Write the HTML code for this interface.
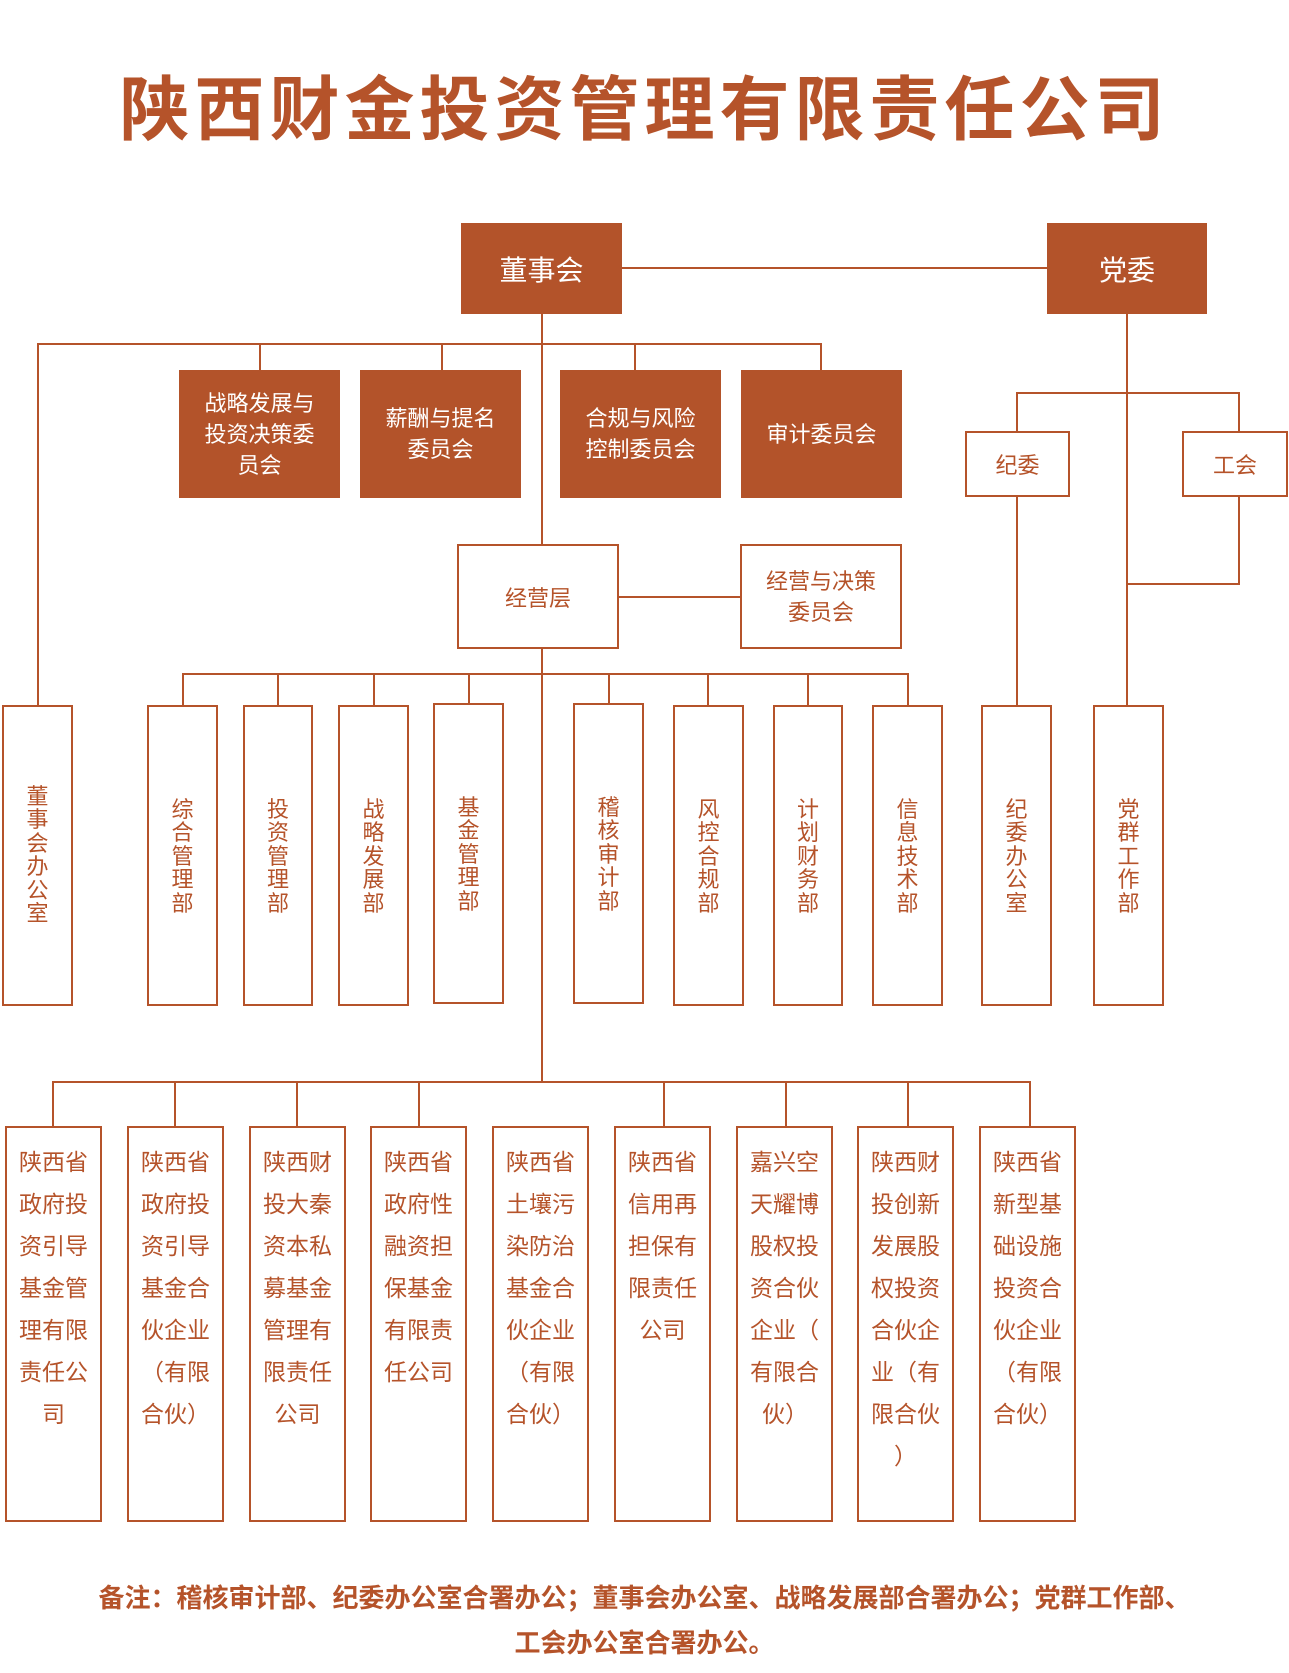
<!DOCTYPE html>
<html><head><meta charset="utf-8"><style>
body{margin:0;background:#fff;}
#c{position:relative;width:1289px;height:1673px;overflow:hidden;font-family:"Liberation Sans","Noto Sans CJK SC",sans-serif;color:#b5532a;}
.a{position:absolute;box-sizing:border-box;}
.f{background:#b3532a;color:#fff;display:flex;align-items:center;justify-content:center;text-align:center;}
.o{border:2px solid #b5532a;background:#fff;display:flex;align-items:center;justify-content:center;text-align:center;}
.h{position:absolute;height:2px;background:#b5532a;}
.v{position:absolute;width:2px;background:#b5532a;}
.vt{border:2px solid #b5532a;background:#fff;text-align:center;font-size:22px;line-height:23.4px;}
.bt{border:2px solid #b5532a;background:#fff;font-size:23px;line-height:42px;padding:13px 0 0 12px;text-align:left;}
.bt div{width:69px;white-space:nowrap;}
.ce{text-align:center;}
</style></head><body><div id="c">
<div class="a" style="left:0;top:66px;width:1289px;text-align:center;font-size:70px;font-weight:bold;line-height:88px;letter-spacing:5px;">陕西财金投资管理有限责任公司</div>

<!-- lines -->
<div class="h" style="left:622px;top:267px;width:425px"></div>
<div class="v" style="left:541px;top:314px;height:230px"></div>
<div class="h" style="left:37px;top:343px;width:785px"></div>
<div class="v" style="left:37px;top:343px;height:362px"></div>
<div class="v" style="left:259px;top:343px;height:27px"></div>
<div class="v" style="left:441px;top:343px;height:27px"></div>
<div class="v" style="left:634px;top:343px;height:27px"></div>
<div class="v" style="left:820px;top:343px;height:27px"></div>
<div class="v" style="left:1126px;top:314px;height:391px"></div>
<div class="h" style="left:1016px;top:392px;width:224px"></div>
<div class="v" style="left:1016px;top:392px;height:39px"></div>
<div class="v" style="left:1238px;top:392px;height:39px"></div>
<div class="v" style="left:1016px;top:496px;height:209px"></div>
<div class="v" style="left:1238px;top:496px;height:89px"></div>
<div class="h" style="left:1126px;top:583px;width:114px"></div>
<div class="h" style="left:618px;top:596px;width:122px"></div>
<div class="v" style="left:541px;top:648px;height:434px"></div>
<div class="h" style="left:182px;top:673px;width:727px"></div>
<div class="v" style="left:182px;top:673px;height:32px"></div>
<div class="v" style="left:277px;top:673px;height:32px"></div>
<div class="v" style="left:373px;top:673px;height:32px"></div>
<div class="v" style="left:468px;top:673px;height:30px"></div>
<div class="v" style="left:608px;top:673px;height:30px"></div>
<div class="v" style="left:707px;top:673px;height:32px"></div>
<div class="v" style="left:807px;top:673px;height:32px"></div>
<div class="v" style="left:907px;top:673px;height:32px"></div>
<div class="h" style="left:52px;top:1081px;width:979px"></div>
<div class="v" style="left:52px;top:1081px;height:46px"></div>
<div class="v" style="left:174px;top:1081px;height:46px"></div>
<div class="v" style="left:296px;top:1081px;height:46px"></div>
<div class="v" style="left:418px;top:1081px;height:46px"></div>
<div class="v" style="left:663px;top:1081px;height:46px"></div>
<div class="v" style="left:785px;top:1081px;height:46px"></div>
<div class="v" style="left:907px;top:1081px;height:46px"></div>
<div class="v" style="left:1029px;top:1081px;height:46px"></div>

<!-- top boxes -->
<div class="a f" style="left:461px;top:223px;width:161px;height:91px;font-size:28px;">董事会</div>
<div class="a f" style="left:1047px;top:223px;width:160px;height:91px;font-size:28px;">党委</div>
<div class="a f" style="left:179px;top:370px;width:161px;height:128px;font-size:22px;line-height:31px;">战略发展与<br>投资决策委<br>员会</div>
<div class="a f" style="left:360px;top:370px;width:161px;height:128px;font-size:22px;line-height:31px;">薪酬与提名<br>委员会</div>
<div class="a f" style="left:560px;top:370px;width:161px;height:128px;font-size:22px;line-height:31px;">合规与风险<br>控制委员会</div>
<div class="a f" style="left:741px;top:370px;width:161px;height:128px;font-size:22px;line-height:31px;">审计委员会</div>
<div class="a o" style="left:965px;top:431px;width:105px;height:66px;font-size:22px;">纪委</div>
<div class="a o" style="left:1182px;top:431px;width:106px;height:66px;font-size:22px;">工会</div>
<div class="a o" style="left:457px;top:544px;width:162px;height:105px;font-size:22px;">经营层</div>
<div class="a o" style="left:740px;top:544px;width:162px;height:105px;font-size:22px;line-height:31px;">经营与决策<br>委员会</div>

<!-- middle vertical boxes -->
<div class="a vt" style="left:2px;top:705px;width:71px;height:301px;padding-top:78px;">董<br>事<br>会<br>办<br>公<br>室</div>
<div class="a vt" style="left:147px;top:705px;width:71px;height:301px;padding-top:91px;">综<br>合<br>管<br>理<br>部</div>
<div class="a vt" style="left:243px;top:705px;width:70px;height:301px;padding-top:91px;">投<br>资<br>管<br>理<br>部</div>
<div class="a vt" style="left:338px;top:705px;width:71px;height:301px;padding-top:91px;">战<br>略<br>发<br>展<br>部</div>
<div class="a vt" style="left:433px;top:703px;width:71px;height:301px;padding-top:91px;">基<br>金<br>管<br>理<br>部</div>
<div class="a vt" style="left:573px;top:703px;width:71px;height:301px;padding-top:91px;">稽<br>核<br>审<br>计<br>部</div>
<div class="a vt" style="left:673px;top:705px;width:71px;height:301px;padding-top:91px;">风<br>控<br>合<br>规<br>部</div>
<div class="a vt" style="left:773px;top:705px;width:70px;height:301px;padding-top:91px;">计<br>划<br>财<br>务<br>部</div>
<div class="a vt" style="left:872px;top:705px;width:71px;height:301px;padding-top:91px;">信<br>息<br>技<br>术<br>部</div>
<div class="a vt" style="left:981px;top:705px;width:71px;height:301px;padding-top:91px;">纪<br>委<br>办<br>公<br>室</div>
<div class="a vt" style="left:1093px;top:705px;width:71px;height:301px;padding-top:91px;">党<br>群<br>工<br>作<br>部</div>

<!-- bottom boxes -->
<div class="a bt" style="left:5px;top:1126px;width:97px;height:396px;"><div>陕西省</div><div>政府投</div><div>资引导</div><div>基金管</div><div>理有限</div><div>责任公</div><div class="ce">司</div></div>
<div class="a bt" style="left:127px;top:1126px;width:97px;height:396px;"><div>陕西省</div><div>政府投</div><div>资引导</div><div>基金合</div><div>伙企业</div><div>（有限</div><div>合伙）</div></div>
<div class="a bt" style="left:249px;top:1126px;width:97px;height:396px;"><div>陕西财</div><div>投大秦</div><div>资本私</div><div>募基金</div><div>管理有</div><div>限责任</div><div class="ce">公司</div></div>
<div class="a bt" style="left:370px;top:1126px;width:97px;height:396px;"><div>陕西省</div><div>政府性</div><div>融资担</div><div>保基金</div><div>有限责</div><div>任公司</div></div>
<div class="a bt" style="left:492px;top:1126px;width:97px;height:396px;"><div>陕西省</div><div>土壤污</div><div>染防治</div><div>基金合</div><div>伙企业</div><div>（有限</div><div>合伙）</div></div>
<div class="a bt" style="left:614px;top:1126px;width:97px;height:396px;"><div>陕西省</div><div>信用再</div><div>担保有</div><div>限责任</div><div class="ce">公司</div></div>
<div class="a bt" style="left:736px;top:1126px;width:97px;height:396px;"><div>嘉兴空</div><div>天耀博</div><div>股权投</div><div>资合伙</div><div>企业（</div><div>有限合</div><div style="padding-left:12px">伙）</div></div>
<div class="a bt" style="left:857px;top:1126px;width:97px;height:396px;"><div>陕西财</div><div>投创新</div><div>发展股</div><div>权投资</div><div>合伙企</div><div>业（有</div><div>限合伙</div><div class="ce">）</div></div>
<div class="a bt" style="left:979px;top:1126px;width:97px;height:396px;"><div>陕西省</div><div>新型基</div><div>础设施</div><div>投资合</div><div>伙企业</div><div>（有限</div><div>合伙）</div></div>

<div class="a" style="left:0;top:1576px;width:1289px;text-align:center;font-size:26px;font-weight:bold;line-height:45px;">备注：稽核审计部、纪委办公室合署办公；董事会办公室、战略发展部合署办公；党群工作部、<br>工会办公室合署办公。</div>
</div></body></html>
